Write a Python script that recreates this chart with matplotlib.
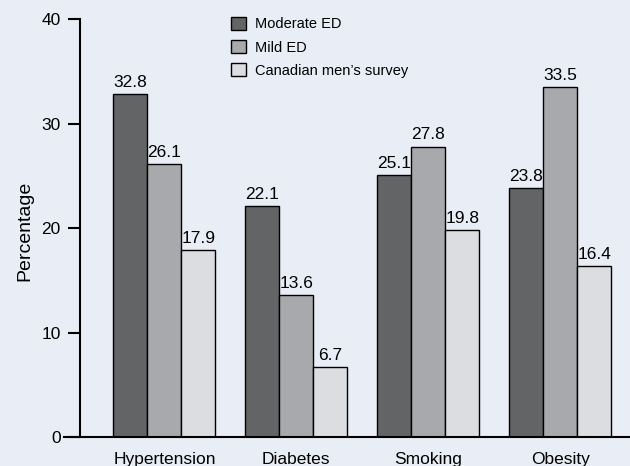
import matplotlib.pyplot as plt
import numpy as np

plt.rcParams['font.family'] = ['Liberation Sans', 'DejaVu Sans']

categories = ['Hypertension', 'Diabetes', 'Smoking', 'Obesity']
series_names = ['Moderate ED', 'Mild ED', "Canadian men’s survey"]
moderate = [32.8, 22.1, 25.1, 23.8]
mild = [26.1, 13.6, 27.8, 33.5]
canadian = [17.9, 6.7, 19.8, 16.4]
colors = ['#636466', '#a8a9ac', '#dcdde0']
bg = '#e9eef6'

fig = plt.figure(figsize=(6.3, 4.66), dpi=100, facecolor=bg)
ax = fig.add_axes([0.127, 0.062, 0.873, 0.897], facecolor=bg)

x = np.arange(len(categories))
w = 0.258
for i, (vals, name) in enumerate(zip([moderate, mild, canadian], series_names)):
    pos = x + (i - 1) * w
    ax.bar(pos, vals, width=w, color=colors[i], edgecolor='black',
           linewidth=1.0, label=name)
    for xp, v in zip(pos, vals):
        ax.text(xp, v + 0.4, f'{v:.1f}', ha='center', va='bottom', fontsize=12.5)

ax.set_ylim(0, 40)
ax.set_xlim(-0.64, 3.53)
ax.set_yticks([0, 10, 20, 30, 40])
ax.set_xticks(x)
ax.set_xticklabels(categories, fontsize=12.5)
ax.tick_params(axis='y', direction='out', length=9, width=1.5, pad=5, labelsize=12.5)
ax.tick_params(axis='x', length=0, pad=11)
for s in ['top', 'right']:
    ax.spines[s].set_visible(False)
ax.spines['left'].set_linewidth(1.5)
ax.spines['bottom'].set_linewidth(1.5)
ax.spines['bottom'].set_bounds(-0.76, 3.53)
ax.set_ylabel('Percentage', fontsize=14)
ax.yaxis.set_label_coords(-0.085, 0.494)

ax.legend(loc='upper left', bbox_to_anchor=(0.251, 1.037), frameon=False,
          fontsize=10.5, handlelength=1.0, handleheight=1.0, labelspacing=0.6,
          handletextpad=0.6)

plt.savefig('out.png', dpi=100, facecolor=bg)
plt.close()
